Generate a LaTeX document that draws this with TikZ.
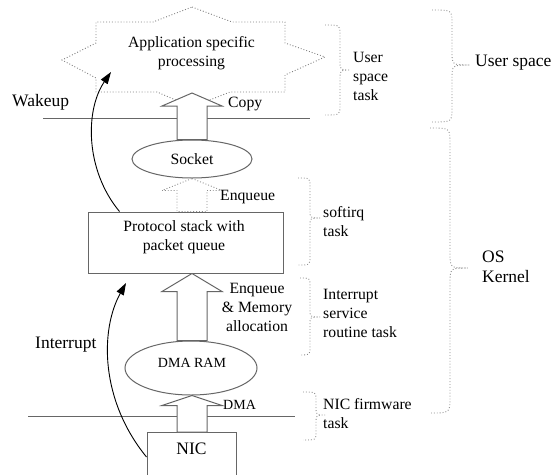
\documentclass[tikz,border=0pt]{standalone}
\usepackage{fontspec}
\setmainfont{Liberation Serif}
\usetikzlibrary{arrows.meta,calc,shapes.geometric}
\tikzset{
  lbl/.style={inner sep=0pt, text=black, font=\fontsize{15.7}{19}\selectfont},
  biglbl/.style={lbl, font=\fontsize{17.5}{20}\selectfont},
  smalllbl/.style={lbl, font=\fontsize{14}{17}\selectfont},
  outline/.style={draw=black!60, line width=1pt},
  blockarrow/.style={outline, fill=white, line join=miter},
  dotarrow/.style={draw=black!45, dotted, line width=0.9pt, fill=white},
  bracestyle/.style={draw=black!45, dotted, line width=0.9pt},
  flow/.style={draw=black, line width=0.9pt, -{Triangle[length=12pt,width=8pt]}},
  layerline/.style={draw=black!60, line width=1pt},
}
% hollow block arrow: style, base anchor, tip anchor, head depth
\newcommand\hollowarrow[4]{%
  \path[#1] let \p1=(#2), \p2=(#3) in
    (192pt,\y2) -- (222pt,\y2-#4pt) -- (207pt,\y2-#4pt) -- (207pt,\y1)
    -- (177pt,\y1) -- (177pt,\y2-#4pt) -- (162pt,\y2-#4pt) -- cycle;}
% right curly brace: ends x, spine x, top y, tip y, bottom y, tip x, curl
\newcommand\curlybrace[7]{%
  \draw[bracestyle] (#1,-#3) .. controls (#2,-#3) .. (#2,{-#3-#7})
    -- (#2,{-#4+#7}) .. controls (#2,-#4) .. (#6,-#4)
    .. controls (#2,-#4) .. (#2,{-#4-#7})
    -- (#2,{-#5+#7}) .. controls (#2,-#5) .. (#1,-#5);}
\begin{document}
\begin{tikzpicture}[x=1pt,y=1pt]
\useasboundingbox (0,0) rectangle (551,-474);

% boundaries between user space, kernel and NIC
\draw[layerline] (43,-118) -- (310,-118);
\draw[layerline] (28,-416) -- (295,-416);

% application star
\draw[dotted, draw=black!50, line width=0.9pt, fill=white]
  (192,-7) -- (232,-22) -- (285,-22) -- (285,-43) -- (325,-57) -- (285,-75)
  -- (285,-92) -- (230,-92) -- (192,-107) -- (157,-92) -- (96,-92)
  -- (96,-78) -- (62,-60) -- (96,-43) -- (96,-22) -- (153,-22) -- cycle;
\node[lbl, align=center] (app) at (191.5,-53) {Application specific\\processing};

% processing stages
\node[outline, ellipse, minimum width=120pt, minimum height=38pt, inner sep=0pt] (sock) at (192,-159) {};
\node[lbl] (socktxt) at (192,-159) {Socket};
\node[outline, minimum width=195pt, minimum height=61pt, inner sep=0pt] (proto) at (185.5,-242.5) {};
\node[lbl, align=center] (prototxt) at (184,-237.5) {Protocol stack with\\packet queue};
\node[outline, ellipse, minimum width=132pt, minimum height=54pt, inner sep=0pt] (dmaram) at (191,-368) {};
\node[smalllbl] (dmaramtxt) at (192,-363) {DMA RAM};
\node[outline, minimum width=89pt, minimum height=60pt, anchor=north, inner sep=0pt] (nicbox) at (191.5,-432) {};
\node[biglbl] (nic) at (191.5,-449) {NIC};

% data path
\coordinate (copytip) at (192,-93);
\hollowarrow{blockarrow}{sock.north}{copytip}{13}
\hollowarrow{dotarrow}{proto.north}{sock.south}{12}
\hollowarrow{blockarrow}{dmaram.north}{proto.south}{18}
\hollowarrow{blockarrow}{nicbox.north}{dmaram.south}{10}

% control path
\coordinate (waketip) at (111,-72);
\coordinate (irqtip) at (126,-283);
\draw[flow] ([xshift=32pt]proto.north west) .. controls (85,-170) and (85,-110) .. (waketip);
\draw[flow] ([yshift=-25pt]nicbox.north west) .. controls (100,-400) and (100,-330) .. (irqtip);

% labels
\node[biglbl, anchor=west] (wakeup) at (12,-102) {Wakeup};
\node[lbl, anchor=west] (copy) at (228,-104) {Copy};
\node[lbl, anchor=west] (enq1) at (220,-197) {Enqueue};
\node[lbl, align=center] (enq2) at (257,-307) {Enqueue\\\& Memory\\allocation};
\node[smalllbl, anchor=west] (dmalbl) at (223,-405) {DMA};
\node[biglbl, anchor=west] (irq) at (35,-345) {Interrupt};

% task braces
\curlybrace{325}{340}{25}{70}{115}{350}{9}
\curlybrace{298}{310}{178}{218}{265}{320}{8}
\curlybrace{300}{310}{278}{317}{355}{320}{8}
\curlybrace{303}{316}{392}{415}{440}{325}{8}
\node[lbl, anchor=west, align=left] (ust) at (353,-76.5) {User\\space\\task};
\node[lbl, anchor=west, align=left] (sirq) at (323,-221.5) {softirq\\task};
\node[lbl, anchor=west, align=left] (isr) at (323,-313) {Interrupt\\service\\routine task};
\node[lbl, anchor=west, align=left] (fw) at (323,-414) {NIC firmware\\task};

% domain braces
\curlybrace{432}{452}{10}{65}{122}{470}{14}
\curlybrace{430}{450}{128}{268}{413}{468}{16}
\node[biglbl, anchor=west] (us) at (475,-63) {User space};
\node[biglbl, anchor=west, align=left] (os) at (482,-267) {OS\\Kernel};
\end{tikzpicture}
\end{document}
